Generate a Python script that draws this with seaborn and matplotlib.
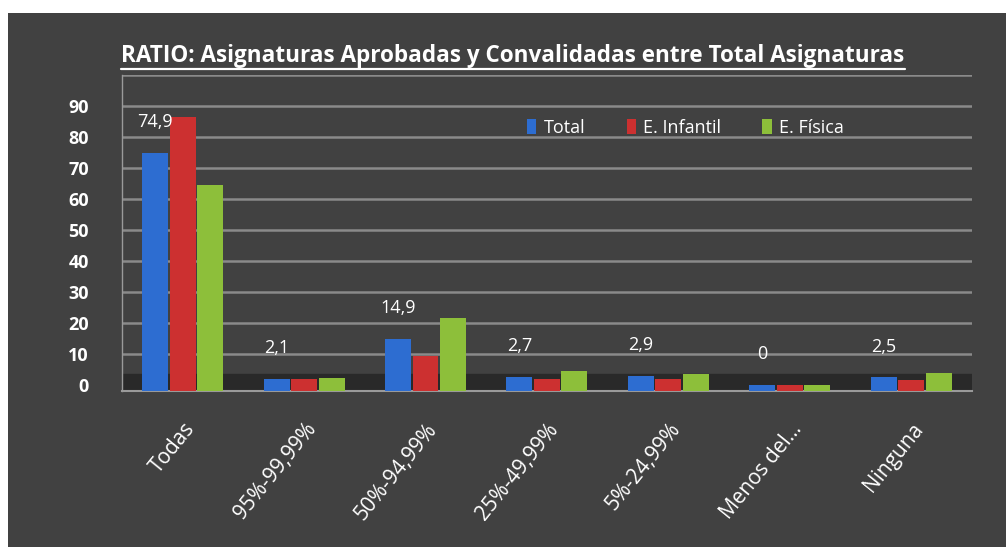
import matplotlib
matplotlib.use("Agg")
import matplotlib.pyplot as plt
import pandas as pd
import seaborn as sns
from matplotlib.lines import Line2D
from matplotlib.patches import Rectangle

categories = ["Todas", "95%-99,99%", "50%-94,99%", "25%-49,99%", "5%-24,99%", "Menos del...", "Ninguna"]
series = ["Total", "E. Infantil", "E. Física"]
total = [74.9, 2.1, 14.9, 2.7, 2.9, 0, 2.5]
infantil = [86.5, 2.0, 9.5, 1.8, 2.0, 0, 1.6]
fisica = [64.5, 2.4, 21.5, 4.6, 3.6, 0, 3.8]
y_ticks = [0, 10, 20, 30, 40, 50, 60, 70, 80, 90, 100]
y_labels = ["0", "10", "20", "30", "40", "50", "60", "70", "80", "90", ""]
title = "RATIO: Asignaturas Aprobadas y Convalidadas entre Total Asignaturas"

colors = ["#2d6dd1", "#cc3030", "#8dbf3a"]
bg = "#414141"

sns.set_theme(style="dark")
plt.rcParams["font.family"] = ["Open Sans", "DejaVu Sans"]

df = pd.DataFrame({
    "cat": categories * 3,
    "serie": [series[0]] * 7 + [series[1]] * 7 + [series[2]] * 7,
    "value": total + infantil + fisica,
})

fig = plt.figure(figsize=(10.06, 5.47), dpi=100, facecolor="white")
fig.patches.append(Rectangle((8 / 1006, 0), 1, 1 - 13 / 547, transform=fig.transFigure,
                             facecolor=bg, edgecolor="none", zorder=-10))
ax = fig.add_axes([0.1213, 0.2848, 0.8447, 0.5782])
ax.set_facecolor(bg)

ax.axhspan(-2, 3.7, color="#292929", zorder=1)
sns.barplot(data=df, x="cat", y="value", hue="serie", palette=colors, width=0.68,
            gap=0.06, saturation=1, ax=ax, zorder=3, legend=True, linewidth=0,
            edgecolor="none")

# bar slab thickness (fake 3d base)
for cont in ax.containers:
    for p in cont:
        p.set_y(-2)
        p.set_height(p.get_height() + 2)

labels = ["0" if v == 0 else f"{v:.1f}".replace(".", ",") for v in total]
for i, v in enumerate(total):
    bar = ax.containers[0][i]
    ax.text(bar.get_x() + bar.get_width() / 2, v + 7, labels[i], ha="center", va="bottom",
            color="white", fontsize=13)

ax.set_ylim(-2, 100)
ax.set_xlim(-0.5, 6.5)
ax.set_yticks(y_ticks)
ax.set_yticklabels(y_labels, color="white", fontsize=13, fontweight="bold")
ax.tick_params(axis="y", length=0, pad=24)
ax.tick_params(axis="x", length=0, pad=20)
ax.set_xticks(range(len(categories)))
ax.set_xticklabels(categories, rotation=51, ha="right", rotation_mode="anchor",
                   color="white", fontsize=15)
ax.set_xlabel("")
ax.set_ylabel("")
ax.yaxis.grid(True, color="#8a8a8a", linewidth=1.8)
ax.xaxis.grid(False)
ax.set_axisbelow(True)
for s in ["top", "right"]:
    ax.spines[s].set_visible(False)
ax.spines["left"].set_color("#9a9a9a")
ax.spines["left"].set_linewidth(1.0)
ax.spines["bottom"].set_color("#9a9a9a")
ax.spines["bottom"].set_linewidth(1.5)

handles, lbls = ax.get_legend_handles_labels()
ax.legend(handles, lbls, loc="center left", bbox_to_anchor=(0.508, 0.766),
          bbox_transform=fig.transFigure, ncol=3, frameon=False, fontsize=13,
          labelcolor="white", handlelength=0.5, handleheight=0.9,
          handletextpad=0.4, columnspacing=2.3)

t = fig.text(0.510, 0.897, title, ha="center", va="center", color="white",
             fontsize=16, fontweight="bold")
fig.canvas.draw()
w = t.get_window_extent().width
t.set_fontsize(16 * 783 / w)
fig.canvas.draw()
bb = t.get_window_extent()
ly = (bb.y0 - 1) / fig.bbox.height
fig.lines.append(Line2D([bb.x0 / fig.bbox.width, bb.x1 / fig.bbox.width], [ly, ly],
                        transform=fig.transFigure, color="white", linewidth=1.6))

fig.savefig("out.png", dpi=100, facecolor="white")
